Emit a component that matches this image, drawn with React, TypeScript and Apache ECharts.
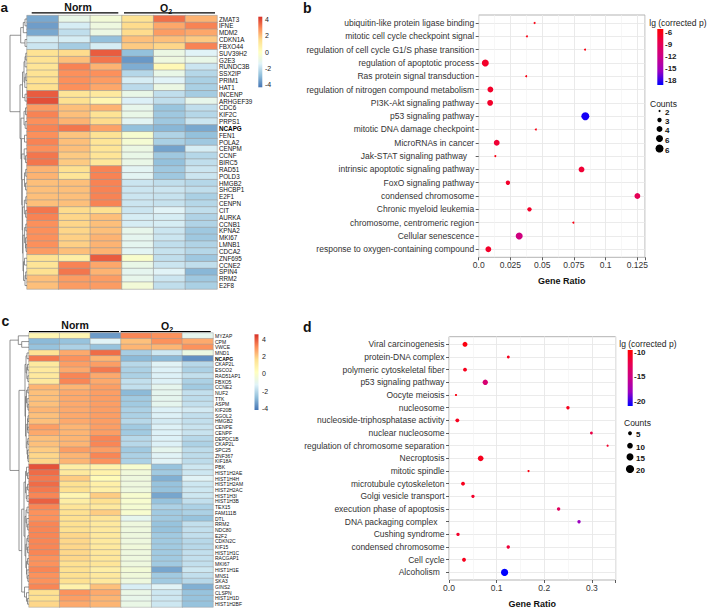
import React, { useEffect, useRef } from 'react';
import * as echarts from 'echarts';

const FONT = '"Liberation Sans", Arial, Helvetica, sans-serif';

// ---------------- heatmap data ----------------
const samples = ['Norm-1', 'Norm-2', 'Norm-3', 'O2-1', 'O2-2', 'O2-3'];

const genesA = ['ZMAT3', 'IFNE', 'MDM2', 'CDKN1A', 'FBXO44', 'SUV39H2', 'G2E3', 'RUNDC3B', 'SSX2IP', 'PRIM1', 'HAT1', 'INCENP', 'ARHGEF39', 'CDC6', 'KIF2C', 'PRPS1', 'NCAPG', 'FEN1', 'POLA2', 'CENPM', 'CCNF', 'BIRC5', 'RAD51', 'POLD3', 'HMGB2', 'SHCBP1', 'E2F1', 'CENPN', 'CIT', 'AURKA', 'CCNB1', 'KPNA2', 'MKI67', 'LMNB1', 'CDCA2', 'ZNF695', 'CCNE2', 'SPIN4', 'RRM2', 'E2F8'];

const exprA = [
  [-3.3, -1.0, -0.6, 1.3, 3.3, 2.2],
  [-3.5, -1.6, -0.8, 1.5, 2.4, 3.0],
  [-3.3, -2.0, -0.9, 1.5, 2.6, 2.4],
  [-1.6, -1.6, -2.8, 2.0, 2.0, 1.8],
  [-1.8, -2.5, -1.6, 1.8, 1.6, 3.0],
  [1.3, 1.5, 3.6, -2.8, -0.9, -1.4],
  [1.3, 2.0, 3.2, -3.6, -0.8, -1.0],
  [1.2, 3.0, 2.2, -3.2, 0.3, -1.8],
  [1.3, 2.8, 2.8, -2.2, -1.0, -2.2],
  [1.4, 2.8, 2.6, -1.6, -1.4, -2.4],
  [1.4, 2.8, 2.4, -2.1, -0.9, -2.4],
  [3.6, 1.2, 1.0, -1.0, -2.0, -2.5],
  [3.8, 1.4, 0.4, -1.5, -2.0, -1.1],
  [2.6, 2.0, 2.2, -1.1, -2.7, -2.0],
  [3.0, 2.0, 1.3, -1.0, -2.6, -2.2],
  [2.8, 2.2, 1.5, -1.3, -2.6, -1.8],
  [3.0, 3.2, 2.5, -2.8, -3.0, -3.3],
  [2.8, 1.9, 1.3, -0.4, -2.3, -2.8],
  [3.0, 2.0, 1.2, -0.5, -2.4, -2.6],
  [2.8, 2.0, 1.2, -0.9, -3.4, -1.6],
  [3.2, 1.8, 1.2, -1.0, -2.6, -2.2],
  [3.2, 1.8, 1.1, -1.0, -2.8, -2.0],
  [2.2, 1.4, 3.0, -1.3, -2.6, -1.8],
  [2.2, 1.2, 3.0, -1.3, -2.6, -1.8],
  [2.0, 2.0, 3.0, -1.8, -2.0, -2.2],
  [2.0, 2.0, 3.0, -1.8, -1.8, -2.0],
  [2.0, 2.0, 3.0, -1.8, -1.9, -2.4],
  [2.0, 2.0, 3.0, -1.8, -1.9, -2.2],
  [3.2, 1.5, 1.4, -1.8, -1.4, -2.0],
  [3.0, 1.6, 2.0, -1.6, -1.6, -2.3],
  [2.8, 1.6, 2.0, -1.6, -1.6, -2.3],
  [2.8, 1.6, 2.0, -1.1, -1.8, -2.6],
  [2.8, 1.7, 2.2, -1.2, -1.8, -2.6],
  [2.8, 1.7, 2.2, -1.2, -2.0, -2.3],
  [2.6, 2.0, 2.2, -1.3, -1.9, -2.2],
  [1.3, 0.8, 3.6, -0.3, -2.0, -2.6],
  [1.2, 3.0, 2.4, -1.0, -1.8, -2.0],
  [1.4, 3.2, 2.2, -1.2, -1.4, -3.0],
  [2.0, 2.6, 2.6, -1.1, -1.8, -2.6],
  [2.0, 2.6, 2.6, -0.6, -2.0, -2.4],
];

const genesC = ['MYZAP', 'CPM', 'VWCE', 'MND1', 'NCAPG', 'CKAP2L', 'ESCO2', 'RAD51AP1', 'FBXO5', 'CCNE2', 'NUF2', 'TTK', 'ASPM', 'KIF20B', 'SGOL2', 'HMGB2', 'CENPE', 'CENPF', 'DEPDC1B', 'CKAP2L', 'SPC25', 'ZNF367', 'KIF18A', 'PBK', 'HIST1H2AE', 'HIST1H4H', 'HIST1H2AM', 'HIST2H2AC', 'HIST1H3I', 'HIST1H3B', 'TEX15', 'FAM111B', 'DTL', 'RRM2', 'NDC80', 'E2F2', 'CDKN2C', 'KIF15', 'HIST1H1C', 'RACGAP1', 'MKI67', 'HIST1H1E', 'MNS1', 'SKA3', 'GINS2', 'CLSPN', 'HIST1H1D', 'HIST1H2BF'];

const exprC = [
  [0.6, 0.6, -3.4, 3.2, 3.0, -1.0],
  [-2.8, -2.6, -1.2, 2.2, 3.0, 2.6],
  [-2.6, -2.2, -2.6, 2.4, 2.4, 3.0],
  [1.5, 2.6, 3.6, -2.3, -1.6, -0.7],
  [3.4, 3.0, 2.4, -2.8, -2.8, -3.6],
  [1.2, 2.8, 2.8, -2.0, -1.2, -2.0],
  [1.2, 2.6, 3.4, -2.2, -1.3, -2.2],
  [1.2, 3.2, 2.6, -2.2, -1.3, -1.8],
  [1.2, 3.2, 2.6, -1.8, -1.3, -2.2],
  [2.4, 2.4, 2.8, -1.8, -1.0, -2.4],
  [2.2, 2.6, 2.8, -2.8, -1.0, -1.8],
  [2.2, 2.6, 2.8, -2.4, -1.0, -1.9],
  [2.2, 2.6, 2.8, -2.4, -1.0, -1.8],
  [2.4, 2.6, 2.8, -2.2, -1.3, -1.5],
  [2.2, 2.6, 2.8, -2.2, -1.3, -1.8],
  [2.2, 2.6, 2.8, -2.0, -1.5, -1.8],
  [2.8, 2.4, 2.8, -2.4, -1.3, -1.7],
  [2.6, 2.4, 2.8, -2.4, -1.3, -1.7],
  [2.2, 2.4, 3.2, -2.0, -1.3, -2.0],
  [2.2, 2.4, 3.2, -2.0, -1.3, -2.2],
  [2.0, 2.8, 2.8, -2.4, -1.0, -1.9],
  [1.8, 2.4, 3.2, -2.2, -1.2, -1.9],
  [1.8, 2.4, 3.0, -2.2, -1.2, -1.9],
  [4.0, 1.0, 0.8, -0.2, -2.6, -1.6],
  [3.6, 1.2, 0.8, -0.5, -2.4, -1.6],
  [3.4, 2.0, 0.4, -0.6, -3.0, -1.2],
  [3.6, 1.6, 0.9, -0.6, -2.6, -1.6],
  [3.4, 1.6, 0.9, -0.6, -2.6, -1.6],
  [3.2, 0.6, 2.0, -0.2, -3.2, -1.6],
  [3.8, 1.0, 1.6, -0.2, -2.6, -1.8],
  [3.2, 1.4, 1.2, -0.3, -2.2, -2.2],
  [3.0, 1.6, 2.0, -0.2, -2.4, -2.2],
  [3.0, 1.6, 1.4, -1.0, -2.4, -2.6],
  [3.2, 1.6, 1.2, -0.6, -2.6, -1.8],
  [3.2, 1.6, 1.2, -0.6, -2.6, -1.8],
  [3.2, 1.8, 1.2, -0.6, -2.4, -1.8],
  [3.2, 1.8, 1.2, -0.6, -2.4, -2.0],
  [3.2, 1.8, 1.2, -0.5, -2.4, -2.0],
  [3.2, 1.8, 1.3, -0.6, -2.4, -1.8],
  [3.0, 1.8, 1.3, -0.6, -2.4, -1.8],
  [3.0, 1.6, 1.4, -0.6, -2.4, -1.8],
  [3.2, 1.6, 1.0, -0.4, -3.2, -1.6],
  [3.0, 1.6, 1.2, -0.5, -2.4, -1.8],
  [3.0, 1.6, 1.2, -0.6, -2.4, -2.0],
  [3.2, 0.8, 2.2, -1.4, -1.2, -3.0],
  [1.6, 3.0, 2.6, -0.8, -1.6, -2.6],
  [1.6, 2.8, 2.4, -0.9, -1.6, -2.6],
  [1.8, 2.6, 2.4, -0.8, -1.6, -2.6],
];

// dendrograms: leaf index, or [height, left, right]
const treeA: any = [17,
  [6.3, [3.7, [2, 0, 1], 2], [2, 3, 4]],
  [7,
    [4.5, [3, [2, [1.2, 5, 6], 7], [2.2, [1.2, 8, 9], 10]], [2, 11, 12]],
    [6,
      [3, [1.5, 13, 14], [1.8, 15, 16]],
      [5.6, [2.5, 17, 18],
        [5.2, [2.8, 19, [1.5, 20, 21]],
          [4.8, [2.5, [1.3, 22, 23], [1.5, 24, 25]],
            [4.4, [2.6, [1.2, 26, 27], [1.4, 28, 29]],
              [4, [2.4, [1.2, 30, 31], [1.5, 32, [1, 33, 34]]],
                [3.5, [2.5, 35, 36], [2, [1.3, 37, 38], 39]]]]]]]]]];

const treeC: any = [19,
  [10.7, 0, [7.3, 1, 2]],
  [10,
    [4,
      [3, [2, 3, 4], [2.2, [1.5, 5, 6], [1.2, 7, 8]]],
      [3.5, [2.5, [1.2, 9, 10], [1.8, 11, [1, 12, 13]]],
        [2.8, [1.5, [1, 14, 15], [1.2, 16, 17]], [2, [1.2, 18, 19], [1.5, 20, [1, 21, 22]]]]]],
    [7.3,
      [5,
        [3.5, [2.5, 23, [1.5, 24, 25]], [2.8, [1.5, 26, 27], [2, 28, 29]]],
        [4, [3, [2, 30, 31], [2.2, 32, [1.3, 33, 34]]],
          [3.2, [2.2, [1.2, 35, 36], [1.5, 37, 38]], [2.5, [1.5, 39, 40], [2, 41, [1.2, 42, 43]]]]]],
      [4.5, 44, [2.5, 45, [1.5, 46, 47]]]]]];

// ---------------- dot plot data ----------------
const termsB = ['ubiquitin-like protein ligase binding', 'mitotic cell cycle checkpoint signal', 'regulation of cell cycle G1/S phase transition', 'regulation of apoptotic process', 'Ras protein signal transduction', 'regulation of nitrogen compound metabolism', 'PI3K-Akt signaling pathway', 'p53 signaling pathway', 'mitotic DNA damage checkpoint', 'MicroRNAs in cancer', 'Jak-STAT signaling pathway   ', 'intrinsic apoptotic signaling pathway', 'FoxO signaling pathway', 'condensed chromosome', 'Chronic myeloid leukemia', 'chromosome, centromeric region', 'Cellular senescence', 'response to oxygen-containing compound'];
const ratioB = [0.044, 0.038, 0.0838, 0.0052, 0.0374, 0.0092, 0.009, 0.084, 0.045, 0.0142, 0.0131, 0.081, 0.023, 0.125, 0.040, 0.0746, 0.0319, 0.0076];
const lgpB = [-6, -6, -6, -7, -6, -7, -7, -18.5, -6, -7.5, -6, -7.5, -7, -9, -7, -6, -11.5, -7];
const countB = [2, 2, 2, 5, 2, 4, 4, 6, 2, 4, 2, 4, 3, 4, 3, 2, 5, 4];
const tickLabelsB = ['0.0', '0.025', '0.05', '0.075', '0.1', '0.125'];
const lgpTicksB = [-6, -9, -12, -15, -18];
const countLegendB = [2, 3, 4, 5, 6];
const countLegendLabelsB = ['2', '3', '4', '6', '6'];

const termsD = ['Viral carcinogenesis', 'protein-DNA complex', 'polymeric cytoskeletal fiber', 'p53 signaling pathway', 'Oocyte meiosis', 'nucleosome', 'nucleoside-triphosphatase activity', 'nuclear nucleosome', 'regulation of chromosome separation', 'Necroptosis', 'mitotic spindle', 'microtubule cytoskeleton', 'Golgi vesicle transport', 'execution phase of apoptosis', 'DNA packaging complex   ', 'Cushing syndrome', 'condensed chromosome', 'Cell cycle', 'Alcoholism  '];
const ratioD = [0.0336, 0.1245, 0.0336, 0.0762, 0.0147, 0.2497, 0.0175, 0.299, 0.333, 0.0665, 0.167, 0.0294, 0.0503, 0.2301, 0.273, 0.0189, 0.1244, 0.0315, 0.1167];
const lgpD = [-10, -10.5, -10.5, -14, -10, -10.5, -10.5, -12, -11, -10.5, -10, -10.5, -11, -13, -18, -11, -11.5, -10.5, -21];
const countD = [8, 3, 5, 9, 2, 4, 5, 3, 2, 10, 2, 5, 4, 4, 4, 4, 4, 5, 16];
const tickLabelsD = ['0.0', '0.1', '0.2', '0.3'];
const lgpTicksD = [-10, -15, -20];
const countLegendD = [5, 10, 15, 20];

const heatTicks = [4, 2, 0, -2, -4];

// ---------------- styles ----------------
const RDYLBU = ['#4575B4', '#91BFDB', '#E0F3F8', '#FFFFBF', '#FEE090', '#FC8D59', '#D73027'];
const PCOL = ['#0000FF', '#9A00C2', '#CA0089', '#E80050', '#FF0000'];

const sizeB = (c: number) => Math.sqrt(Math.max(15 * c - 26, 3));
const sizeD = (c: number) => Math.sqrt(3.4 * c - 2);

function dendroSegments(tree: any) {
  const segs: number[][] = [];
  const walk = (node: any): [number, number] => {
    if (typeof node === 'number') return [node, 0];
    const [h, l, r] = node;
    const [yl, hl] = walk(l);
    const [yr, hr] = walk(r);
    segs.push([hl, yl, h, yr, hr]);
    return [(yl + yr) / 2, h];
  };
  walk(tree);
  return segs;
}

function gradientFill(colors: string[]) {
  const rev = colors.slice().reverse();
  return {
    type: 'linear', x: 0, y: 0, x2: 0, y2: 1,
    colorStops: rev.map((c, i) => ({ offset: i / (rev.length - 1), color: c })),
  };
}

function colorbar(x: number, top: number, w: number, h: number, colors: string[], vmax: number, vmin: number,
  ticks: number[], labelX: number, bold: boolean, fs: number) {
  const els: any[] = [{ type: 'rect', shape: { x, y: top, width: w, height: h }, style: { fill: gradientFill(colors) } }];
  ticks.forEach((t) => {
    const y = top + ((vmax - t) / (vmax - vmin)) * h;
    els.push({
      type: 'text', x: labelX, y,
      style: { text: String(t), fontSize: fs, fontWeight: bold ? 'bold' : 'normal', fontFamily: FONT, fill: '#222', align: 'left', verticalAlign: 'middle' },
    });
  });
  return els;
}

function txt(text: string, x: number, y: number, fs: number, bold: boolean, align = 'left', extra: any = {}) {
  return {
    type: 'text', x, y,
    style: { text, fontSize: fs, fontWeight: bold ? 'bold' : 'normal', fontFamily: FONT, fill: '#111', align, verticalAlign: 'middle', ...extra },
  };
}

function hline(x1: number, x2: number, y: number) {
  return { type: 'line', shape: { x1, y1: y, x2, y2: y }, style: { stroke: '#000', lineWidth: 1.2 } };
}

function o2(x: number, y: number) {
  return {
    type: 'text', x, y,
    style: {
      text: 'O{s|2}', fontSize: 10.5, fontWeight: 'bold', fontFamily: FONT, fill: '#111', align: 'center', verticalAlign: 'middle', lineHeight: 14,
      rich: { s: { fontSize: 7, fontWeight: 'bold', fontFamily: FONT, fill: '#111', verticalAlign: 'bottom', lineHeight: 7 } },
    },
  };
}

function heatAxisY(genes: string[], gridIndex: number, fs: number) {
  return {
    type: 'category', gridIndex, data: genes, inverse: true, position: 'right',
    axisLine: { show: false }, axisTick: { show: false },
    axisLabel: {
      interval: 0, fontSize: fs, fontFamily: FONT, color: '#111', margin: 2,
      formatter: (v: string) => (v === 'NCAPG' ? '{b|' + v + '}' : v),
      rich: { b: { fontSize: fs, fontWeight: 'bold', fontFamily: FONT, color: '#000' } },
    },
  };
}

function dendroRender(params: any, api: any) {
  const hl = api.value(0), yl = api.value(1), h = api.value(2), yr = api.value(3), hr = api.value(4);
  const pts = [api.coord([hl, yl]), api.coord([h, yl]), api.coord([h, yr]), api.coord([hr, yr])];
  return { type: 'polyline', shape: { points: pts }, style: { stroke: '#666', lineWidth: 0.7, fill: null } };
}

function tickFormatter(labels: string[], step: number) {
  return (v: number) => {
    const i = Math.round(v / step);
    if (Math.abs(v - i * step) < 1e-7 && i >= 0 && i < labels.length) return labels[i];
    return '';
  };
}

function frameAxes(gridIndex: number, max: number, major: number, minor: number, labels: string[]) {
  return [
    {
      type: 'value', gridIndex, min: 0, max, interval: minor, position: 'top',
      axisLine: { show: false }, axisTick: { show: false }, axisLabel: { show: false },
      splitLine: { show: true, lineStyle: { color: '#f1f1f1', width: 0.6 } },
    },
    {
      type: 'value', gridIndex, min: 0, max, interval: major, position: 'bottom',
      axisLine: { show: false },
      axisTick: { show: true, length: 3, lineStyle: { color: '#333', width: 0.8 } },
      axisLabel: { fontSize: 8.5, fontFamily: FONT, color: '#333', margin: 3.5, formatter: tickFormatter(labels, major), showMaxLabel: true },
      splitLine: { show: true, lineStyle: { color: '#e6e6e6', width: 0.8 } },
      name: 'Gene Ratio', nameLocation: 'middle', nameGap: 19,
      nameTextStyle: { fontSize: 9, fontWeight: 'bold', fontFamily: FONT, color: '#111' },
    },
    { type: 'value', gridIndex: gridIndex + 1, min: 0, max, show: false },
  ];
}

function termAxis(terms: string[], gridIndex: number) {
  return {
    type: 'category', gridIndex, data: terms, inverse: true, boundaryGap: false,
    axisLine: { show: false },
    axisTick: { show: true, interval: 0, length: 3, lineStyle: { color: '#333', width: 0.8 } },
    axisLabel: { interval: 0, fontSize: 8.5, fontFamily: FONT, color: '#333', margin: 4.5 },
    splitLine: { show: true, interval: 0, lineStyle: { color: '#e6e6e6', width: 0.8 } },
  };
}

export default function App() {
  const ref = useRef<HTMLDivElement>(null);
  useEffect(() => {
    document.body.style.margin = '0';
    if (!ref.current) return;
    const chart = echarts.init(ref.current, undefined, { renderer: 'svg' });

    const heatDataA = exprA.flatMap((row, r) => row.map((v, c) => [c, r, v]));
    const heatDataC = exprC.flatMap((row, r) => row.map((v, c) => [c, r, v]));

    const graphic: any[] = [
      txt('a', 0.5, 0, 13.5, true, 'left', { verticalAlign: 'top' }),
      txt('b', 303, 8, 14, true),
      txt('c', 1.5, 320.5, 14, true),
      txt('d', 303, 326.5, 14, true),
      // headers a
      txt('Norm', 78, 6.8, 10.5, true, 'center'),
      hline(31.7, 118.3, 12.8),
      o2(166, 7.8),
      hline(124, 215, 12.8),
      // headers c
      txt('Norm', 75, 325, 10.5, true, 'center'),
      hline(29, 119, 331.7),
      o2(167, 326),
      hline(120.7, 210.7, 331.7),
      // heat colorbars
      ...colorbar(258.3, 16.7, 4, 70.6, RDYLBU, 4.28, -4.28, heatTicks, 265, false, 7),
      ...colorbar(254.5, 334.3, 4, 75.7, RDYLBU, 4.54, -4.15, heatTicks, 262, false, 7),
      // legend b
      txt('lg (corrected p)', 649.3, 23.3, 8.5, false, 'left', { fill: '#222' }),
      ...colorbar(657.3, 29, 6, 56, PCOL, -5.2, -19.0, lgpTicksB, 665, true, 8),
      txt('Counts', 650, 104, 8.5, false, 'left', { fill: '#222' }),
      // legend d
      txt('lg (corrected p)', 619.3, 344.3, 8.5, false, 'left', { fill: '#222' }),
      ...colorbar(627.7, 350, 5, 56, PCOL, -9.45, -21, lgpTicksD, 634, true, 8),
      txt('Counts', 624, 422.7, 8.5, false, 'left', { fill: '#222' }),
    ];
    const cyB = [111, 120, 129, 138.5, 148.5];
    countLegendB.forEach((c, i) => {
      graphic.push({ type: 'circle', shape: { cx: 659.5, cy: cyB[i], r: sizeB(c) / 2 }, style: { fill: '#000' } });
      graphic.push(txt(countLegendLabelsB[i], 665, cyB[i] + 1.5, 8, true));
    });
    const cyD = [433.3, 445.7, 456.9, 469];
    countLegendD.forEach((c, i) => {
      graphic.push({ type: 'circle', shape: { cx: 630, cy: cyD[i], r: sizeD(c) / 2 }, style: { fill: '#000' } });
      graphic.push(txt(String(c), 636, cyD[i] + 1.5, 8, true));
    });

    const option: any = {
      animation: false,
      backgroundColor: '#fff',
      grid: [
        { left: 27, top: 15.6, width: 190, height: 273.4, outerBoundsMode: 'none' },
        { left: 0, top: 15.6, width: 27, height: 273.4, outerBoundsMode: 'none' },
        { left: 29, top: 333, width: 184, height: 274, outerBoundsMode: 'none' },
        { left: 0, top: 333, width: 29, height: 274, outerBoundsMode: 'none' },
        { left: 478.7, top: 15, width: 166.3, height: 242.3, show: true, borderColor: '#b3b3b3', borderWidth: 1, backgroundColor: '#fff', outerBoundsMode: 'none' },
        { left: 478.7, top: 23, width: 166.3, height: 226.3, outerBoundsMode: 'none' },
        { left: 449, top: 336.7, width: 166.7, height: 243.3, show: true, borderColor: '#b3b3b3', borderWidth: 1, backgroundColor: '#fff', outerBoundsMode: 'none' },
        { left: 449, top: 344.3, width: 166.7, height: 228.1, outerBoundsMode: 'none' },
      ],
      xAxis: [
        { type: 'category', gridIndex: 0, data: samples, show: false },
        { type: 'value', gridIndex: 1, min: 0, max: 27, inverse: true, show: false },
        { type: 'category', gridIndex: 2, data: samples, show: false },
        { type: 'value', gridIndex: 3, min: 0, max: 29, inverse: true, show: false },
        ...frameAxes(4, 0.131, 0.025, 0.0125, tickLabelsB),
        ...frameAxes(6, 0.35, 0.1, 0.05, tickLabelsD),
      ],
      yAxis: [
        heatAxisY(genesA, 0, 6.3),
        { type: 'value', gridIndex: 1, min: -0.5, max: genesA.length - 0.5, inverse: true, show: false },
        heatAxisY(genesC, 2, 5),
        { type: 'value', gridIndex: 3, min: -0.5, max: genesC.length - 0.5, inverse: true, show: false },
        { type: 'value', gridIndex: 4, min: 0, max: 1, show: false },
        termAxis(termsB, 5),
        { type: 'value', gridIndex: 6, min: 0, max: 1, show: false },
        termAxis(termsD, 7),
      ],
      visualMap: [
        { type: 'continuous', show: false, seriesIndex: 0, dimension: 2, min: -4.28, max: 4.28, inRange: { color: RDYLBU } },
        { type: 'continuous', show: false, seriesIndex: 2, dimension: 2, min: -4.15, max: 4.54, inRange: { color: RDYLBU } },
        { type: 'continuous', show: false, seriesIndex: 4, dimension: 2, min: -19.0, max: -5.2, inRange: { color: PCOL } },
        { type: 'continuous', show: false, seriesIndex: 5, dimension: 2, min: -21, max: -9.45, inRange: { color: PCOL } },
      ],
      series: [
        {
          type: 'heatmap', xAxisIndex: 0, yAxisIndex: 0, data: heatDataA,
          itemStyle: { borderColor: '#9a9a9a', borderWidth: 0.6 }, emphasis: { disabled: true },
        },
        {
          type: 'custom', xAxisIndex: 1, yAxisIndex: 1, data: dendroSegments(treeA), renderItem: dendroRender, clip: false, silent: true,
        },
        {
          type: 'heatmap', xAxisIndex: 2, yAxisIndex: 2, data: heatDataC,
          itemStyle: { borderColor: '#9a9a9a', borderWidth: 0.5 }, emphasis: { disabled: true },
        },
        {
          type: 'custom', xAxisIndex: 3, yAxisIndex: 3, data: dendroSegments(treeC), renderItem: dendroRender, clip: false, silent: true,
        },
        {
          type: 'scatter', xAxisIndex: 6, yAxisIndex: 5,
          data: termsB.map((t, i) => [ratioB[i], t, lgpB[i], countB[i]]),
          symbolSize: (v: any) => sizeB(v[3]), itemStyle: { opacity: 1 }, emphasis: { disabled: true }, clip: false,
        },
        {
          type: 'scatter', xAxisIndex: 9, yAxisIndex: 7,
          data: termsD.map((t, i) => [ratioD[i], t, lgpD[i], countD[i]]),
          symbolSize: (v: any) => sizeD(v[3]), itemStyle: { opacity: 1 }, emphasis: { disabled: true }, clip: false,
        },
      ],
      graphic,
    };
    chart.setOption(option);
    return () => chart.dispose();
  }, []);
  return <div ref={ref} style={{ width: 708, height: 610 }} />;
}
